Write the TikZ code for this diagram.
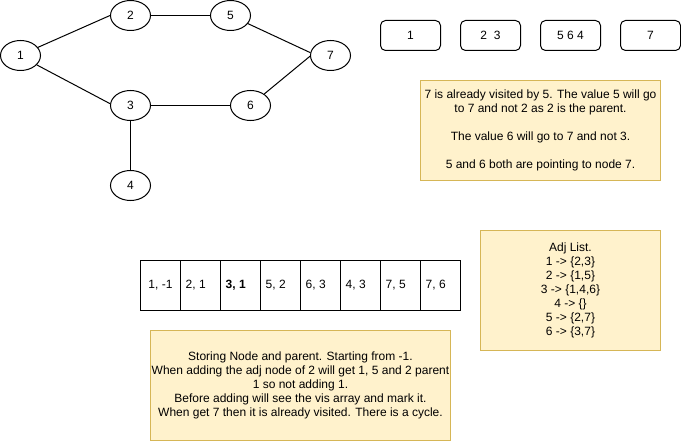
\documentclass[tikz,border=0pt]{standalone}
\usepackage{fontspec}
\setmainfont{Liberation Sans}
\usetikzlibrary{shapes.geometric}
\definecolor{notefill}{HTML}{FFF2CC}
\definecolor{notedraw}{HTML}{D6B656}
\begin{document}
\begin{tikzpicture}[x=1pt,y=-1pt,
  every node/.style={font=\fontsize{12}{14}\selectfont},
  vert/.style={ellipse,draw,line width=1pt,minimum width=40pt,minimum height=30pt,inner sep=0pt},
  edge/.style={line width=1pt},
  qbox/.style={draw,line width=1pt,rounded corners=5pt,minimum width=60pt,minimum height=30pt,inner sep=0pt},
  note/.style={draw=notedraw,fill=notefill,line width=1pt,align=center,inner sep=0pt},
  cell/.style={draw,line width=1pt,minimum width=40pt,minimum height=50pt,inner sep=0pt},
  celltext/.style={inner sep=0pt,anchor=west}
]
\useasboundingbox (0,0) rectangle (681,441);
% graph
\node[vert] (n1) at (20.5,55.5) {1};
\node[vert] (n2) at (130.5,15.5) {2};
\node[vert] (n5) at (230.5,15.5) {5};
\node[vert] (n7) at (330.5,55.5) {7};
\node[vert] (n3) at (130.5,105.5) {3};
\node[vert] (n6) at (250.5,105.5) {6};
\node[vert] (n4) at (130.5,185.5) {4};
\draw[edge] (n1.25) -- (n2.west);
\draw[edge] (n1.-30) -- (n3.175);
\draw[edge] (n2.east) -- (n5.west);
\draw[edge] (n5.-25) -- (n7.172);
\draw[edge] (n7.182) -- (n6.40);
\draw[edge] (n3.east) -- (n6.west);
\draw[edge] (n3.south) -- (n4.north);
% queue boxes
\node[qbox] (q1) at (410.5,35.5) {1};
\node[qbox] (q2) at (490.5,35.5) {2\ \ 3};
\node[qbox] (q3) at (570.5,35.5) {5 6 4};
\node[qbox] (q4) at (650.5,35.5) {7};
% note 1
\node[note,minimum width=240pt,minimum height=100pt] (note1) at (540.5,130.5)
  {7 is already visited by 5. The value 5 will go\\to 7 and not 2 as 2 is the parent.\\[14pt]The value 6 will go to 7 and not 3.\\[14pt]5 and 6 both are pointing to node 7.};
% array
\node[cell] (c1) at (160.5,285.5) {};
\node[cell] (c2) at (200.5,285.5) {};
\node[cell] (c3) at (240.5,285.5) {};
\node[cell] (c4) at (280.5,285.5) {};
\node[cell] (c5) at (320.5,285.5) {};
\node[cell] (c6) at (360.5,285.5) {};
\node[cell] (c7) at (400.5,285.5) {};
\node[cell] (c8) at (440.5,285.5) {};
\node[inner sep=0pt] (t1) at (c1.center) {1, -1};
\node[celltext] (t2) at ([xshift=5.5pt]c2.west) {2, 1};
\node[celltext] (t3) at ([xshift=5.5pt]c3.west) {\bfseries 3, 1};
\node[celltext] (t4) at ([xshift=5.5pt]c4.west) {5, 2};
\node[celltext] (t5) at ([xshift=5.5pt]c5.west) {6, 3};
\node[celltext] (t6) at ([xshift=5.5pt]c6.west) {4, 3};
\node[celltext] (t7) at ([xshift=5.5pt]c7.west) {7, 5};
\node[celltext] (t8) at ([xshift=5.5pt]c8.west) {7, 6};
% adj list
\node[note,minimum width=180pt,minimum height=120pt] (adj) at (570.5,290.5)
  {Adj List.\\1 -> \{2,3\}\\2 -> \{1,5\}\\3 -> \{1,4,6\}\\4 -> \{\}\\5 -> \{2,7\}\\6 -> \{3,7\}};
% bottom note
\node[note,minimum width=300pt,minimum height=110pt] (note2) at (300.5,385.5)
  {Storing Node and parent. Starting from -1.\\When adding the adj node of 2 will get 1, 5 and 2 parent\\1 so not adding 1.\\Before adding will see the vis array and mark it.\\When get 7 then it is already visited. There is a cycle.};
\end{tikzpicture}
\end{document}
